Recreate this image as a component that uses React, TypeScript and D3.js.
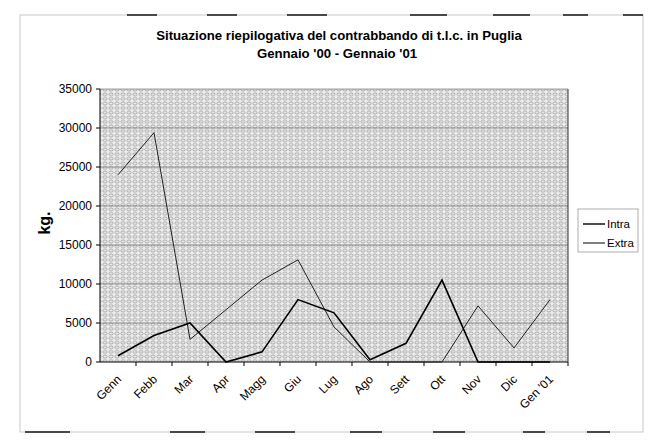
import React from 'react';
import * as d3 from 'd3';

const months = ['Genn', 'Febb', 'Mar', 'Apr', 'Magg', 'Giu', 'Lug', 'Ago', 'Sett', 'Ott', 'Nov', 'Dic', "Gen '01"];
const intra = [800, 3400, 5000, 0, 1300, 8000, 6300, 300, 2400, 10500, 0, 0, 0];
const extra = [24000, 29400, 2900, 6700, 10500, 13100, 4500, 0, 0, 0, 7200, 1800, 8000];
const yTicks = [0, 5000, 10000, 15000, 20000, 25000, 30000, 35000];
const seriesNames = ['Intra', 'Extra'];

// scan artefacts along the frame (x start, x end)
const topDashes = [[127, 157], [207, 237], [287, 327], [410, 447], [493, 530], [563, 588], [623, 643]];
const bottomDashes = [[25, 70], [170, 205], [255, 295], [350, 382], [433, 465], [523, 545], [587, 610]];

const W = 668;
const H = 441;
const plot = { left: 100, right: 568, top: 89, bottom: 362 };
const FONT = 'Liberation Sans, Arial, sans-serif';

export default function App() {
  const x = d3.scaleBand<string>().domain(months).range([plot.left, plot.right]);
  const y = d3.scaleLinear().domain([0, 35000]).range([plot.bottom, plot.top]);
  const cx = (m: string) => (x(m) ?? 0) + x.bandwidth() / 2;

  const line = d3.line<number>()
    .x((_, i) => cx(months[i]))
    .y((d) => y(d));

  return (
    <svg
      width={W}
      height={H}
      style={{ position: 'absolute', left: 0, top: 0, background: '#fff' }}
      fontFamily={FONT}
    >
      <defs>
        <pattern id="zeros" width="6" height="4.6" patternUnits="userSpaceOnUse">
          <ellipse cx="3" cy="2.3" rx="2.1" ry="1.4" fill="none" stroke="#8c8c8c" strokeWidth="0.7" />
        </pattern>
      </defs>

      {/* frame */}
      <rect x={20} y={15} width={623} height={417} fill="none" stroke="#c8c8c8" strokeWidth={1} />
      {topDashes.map(([a, b], i) => (
        <line key={`t${i}`} x1={a} x2={b} y1={15} y2={15} stroke="#222" strokeWidth={2} opacity={0.8} />
      ))}
      {bottomDashes.map(([a, b], i) => (
        <line key={`b${i}`} x1={a} x2={b} y1={432} y2={432} stroke="#222" strokeWidth={2} opacity={0.8} />
      ))}

      {/* title */}
      <text x={339} y={40} textAnchor="middle" fontSize={13.2} fontWeight="bold" fill="#000">
        Situazione riepilogativa del contrabbando di t.l.c. in Puglia
      </text>
      <text x={337} y={58} textAnchor="middle" fontSize={13.2} fontWeight="bold" fill="#000">
        Gennaio '00 - Gennaio '01
      </text>

      {/* plot background */}
      <rect x={plot.left} y={plot.top} width={plot.right - plot.left} height={plot.bottom - plot.top} fill="#ececec" />
      <rect x={plot.left} y={plot.top} width={plot.right - plot.left} height={plot.bottom - plot.top} fill="url(#zeros)" />

      {/* gridlines */}
      {yTicks.slice(1).map((t) => (
        <line key={`g${t}`} x1={plot.left} x2={plot.right} y1={y(t)} y2={y(t)} stroke="#555" strokeWidth={1} opacity={0.55} />
      ))}

      {/* axes */}
      <line x1={plot.left} x2={plot.left} y1={plot.top} y2={plot.bottom} stroke="#000" strokeWidth={1} />
      <line x1={plot.left} x2={plot.right} y1={plot.bottom} y2={plot.bottom} stroke="#000" strokeWidth={1.2} />
      <line x1={plot.right} x2={plot.right} y1={plot.top} y2={plot.bottom} stroke="#333" strokeWidth={1} />

      {yTicks.map((t) => (
        <g key={`y${t}`}>
          <line x1={plot.left - 4} x2={plot.left} y1={y(t)} y2={y(t)} stroke="#000" />
          <text x={92} y={y(t)} dy="0.35em" textAnchor="end" fontSize={12} fill="#000">
            {t}
          </text>
        </g>
      ))}

      {months.map((m) => (
        <g key={`x${m}`}>
          <line x1={(x(m) ?? 0) + x.bandwidth()} x2={(x(m) ?? 0) + x.bandwidth()} y1={plot.bottom} y2={plot.bottom + 4} stroke="#000" />
          <text
            transform={`translate(${cx(m) + 1},${plot.bottom + 15}) rotate(-45)`}
            textAnchor="end"
            dy="0.35em"
            fontSize={12}
            fill="#000"
          >
            {m}
          </text>
        </g>
      ))}

      <text transform={`translate(50,223) rotate(-90)`} textAnchor="middle" fontSize={16} fontWeight="bold" fill="#000">
        kg.
      </text>

      {/* series */}
      <path d={line(extra) ?? ''} fill="none" stroke="#222" strokeWidth={1} />
      <path d={line(intra) ?? ''} fill="none" stroke="#000" strokeWidth={1.6} />

      {/* legend */}
      <rect x={578} y={209} width={60} height={43} fill="#fff" stroke="#999" strokeWidth={0.8} />
      {seriesNames.map((s, i) => (
        <g key={s}>
          <line x1={583} x2={605} y1={224 + i * 19} y2={224 + i * 19} stroke="#000" strokeWidth={i === 0 ? 1.4 : 1} />
          <text x={607} y={224 + i * 19} dy="0.35em" fontSize={11.5} fill="#000">
            {s}
          </text>
        </g>
      ))}
    </svg>
  );
}
